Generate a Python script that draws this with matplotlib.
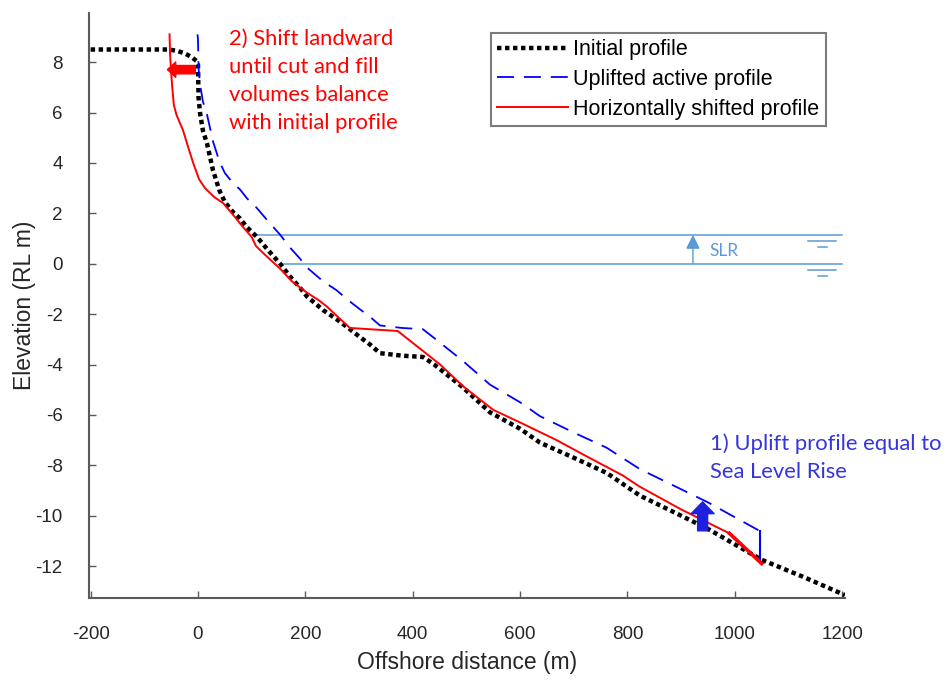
import matplotlib.pyplot as plt

plt.rcParams['axes.unicode_minus'] = False

# initial beach profile (offshore distance m, elevation m RL)
x_init = [-200, -55, -40, -25, -12, -3, 0, 1, 4, 9, 17, 28, 40, 50, 65, 78, 91,
          110, 130, 153, 171, 190, 203, 233, 258, 277, 301, 320, 339, 380, 419,
          440, 493, 544, 600, 637, 700, 761, 823, 948, 1050, 1130, 1205]
z_init = [8.5, 8.5, 8.45, 8.35, 8.2, 8.05, 7.9, 6.6, 5.95, 5.3, 4.75, 3.7, 2.9,
          2.45, 2.05, 1.8, 1.45, 1.06, 0.55, 0.0, -0.5, -0.95, -1.3, -1.84, -2.2,
          -2.5, -2.9, -3.2, -3.55, -3.65, -3.7, -4.0, -4.9, -5.9, -6.55, -7.1,
          -7.7, -8.3, -9.2, -10.5, -11.75, -12.45, -13.15]

# active profile raised by the sea level rise
x_up = [-1, 0, 1, 4, 9, 17, 28, 40, 50, 65, 78, 91, 110, 130, 153, 171, 190,
        203, 233, 258, 277, 301, 320, 339, 380, 419, 440, 493, 544, 600, 637,
        700, 761, 823, 948, 1046]
z_up = [9.1, 8.9, 7.75, 7.1, 6.45, 5.9, 4.85, 4.05, 3.6, 3.2, 2.95, 2.6, 2.2,
        1.7, 1.15, 0.65, 0.2, -0.15, -0.7, -1.05, -1.4, -1.8, -2.1, -2.45,
        -2.55, -2.6, -2.95, -3.85, -4.8, -5.5, -6.05, -6.7, -7.3, -8.15, -9.45,
        -10.6]
x_up_edge = [1046, 1046]
z_up_edge = [-10.6, -11.8]

# raised profile moved landward
x_shift = [-53, -52, -50, -48, -45, -40, -28, -18, -9, 2, 13, 30, 47, 65, 84,
           100, 108, 125, 153, 175, 203, 225, 240, 260, 283, 372, 451, 493, 550,
           600, 668, 720, 791, 823, 900, 990]
z_shift = [9.1, 8.3, 7.6, 7.0, 6.3, 5.9, 5.3, 4.6, 4.0, 3.35, 3.0, 2.65, 2.4,
           1.95, 1.45, 1.06, 0.7, 0.35, -0.2, -0.7, -1.15, -1.45, -1.7, -2.1,
           -2.55, -2.67, -4.0, -4.85, -5.8, -6.3, -7.0, -7.6, -8.4, -8.85,
           -9.75, -10.7]
x_shift_toe = [990, 1050]
z_shift_toe = [-10.7, -11.9]

# still water levels before / after sea level rise
slr_levels = [0.0, 1.15]
slr_starts = [153, 106]

xticks = [-200, 0, 200, 400, 600, 800, 1000, 1200]
yticks = [-12, -10, -8, -6, -4, -2, 0, 2, 4, 6, 8]

axis_font = 'Liberation Sans'
note_font = 'Lato'
slr_col = '#5b9bd5'

fig = plt.figure(figsize=(9.44, 6.82), dpi=100)
ax = fig.add_axes([0.0943, 0.123, 0.8007, 0.858])

ax.plot(x_init, z_init, color='k', lw=3.2, ls=(0, (1, 0.8)),
        label='Initial profile', zorder=3)
ax.plot(x_up, z_up, color='b', lw=1.3, ls=(0, (9.4, 5.5)),
        label='Uplifted active profile', zorder=4)
ax.plot(x_up_edge, z_up_edge, color='b', lw=1.5, zorder=4)
ax.plot(x_shift, z_shift, color='r', lw=1.4,
        label='Horizontally shifted profile', zorder=5)
ax.plot(x_shift_toe, z_shift_toe, color='r', lw=2.6, zorder=5)

# sea level lines and symbols
for lev, x0 in zip(slr_levels, slr_starts):
    ax.plot([x0, 1200], [lev, lev], color=slr_col, lw=1.1, zorder=2)
    ax.plot([1136, 1188], [lev - 0.25, lev - 0.25], color=slr_col, lw=1.1)
    ax.plot([1154, 1171], [lev - 0.48, lev - 0.48], color=slr_col, lw=1.1)
ax.annotate('', xy=(922, slr_levels[1]), xytext=(922, slr_levels[0]),
            arrowprops=dict(arrowstyle='-|>,head_length=0.85,head_width=0.42',
                            mutation_scale=10, color=slr_col, lw=1,
                            shrinkA=0, shrinkB=0))
ax.text(953, 0.5, 'SLR', color=slr_col, fontsize=12.5, family=note_font,
        va='center', ha='left')

# annotations
ax.annotate('', xy=(-57, 7.7), xytext=(-5, 7.7),
            arrowprops=dict(arrowstyle='simple,head_length=0.6,head_width=1.1,tail_width=0.6',
                            mutation_scale=10, color='r', shrinkA=0, shrinkB=0),
            zorder=6)
ax.text(58, 9.33, '2) Shift landward\nuntil cut and fill\nvolumes balance\nwith initial profile',
        color='r', fontsize=15.8, family=note_font, va='top', ha='left',
        linespacing=1.5)
ax.annotate('', xy=(940, -9.45), xytext=(940, -10.6),
            arrowprops=dict(arrowstyle='simple,head_length=0.85,head_width=1.65,tail_width=0.72',
                            mutation_scale=10, color='#1f1fe0', shrinkA=0, shrinkB=0),
            zorder=6)
ax.text(953, -6.72, '1) Uplift profile equal to\nSea Level Rise', color='#3535e0',
        fontsize=15.8, family=note_font, va='top', ha='left', linespacing=1.5)

ax.set_xlim(-203, 1205)
ax.set_ylim(-13.27, 9.95)
ax.set_xticks(xticks)
ax.set_yticks(yticks)
for side in ['top', 'right']:
    ax.spines[side].set_visible(False)
for side in ['left', 'bottom']:
    ax.spines[side].set_color('#5a5a5a')
    ax.spines[side].set_linewidth(1.5)
ax.tick_params(direction='in', length=5, width=1, color='#5a5a5a',
               labelcolor='#262626', labelsize=13.5)
ax.tick_params(axis='x', pad=20)
ax.tick_params(axis='y', pad=19)
for lab in ax.get_xticklabels() + ax.get_yticklabels():
    lab.set_family(axis_font)

ax.set_xlabel('Offshore distance (m)', fontsize=16.5, family=axis_font,
              color='#262626')
ax.set_ylabel('Elevation (RL m)', fontsize=16.5, family=axis_font,
              color='#262626')
ax.xaxis.set_label_coords(0.5, -0.09)
ax.yaxis.set_label_coords(-0.07, 0.5)

leg = ax.legend(loc='upper right', bbox_to_anchor=(0.975, 0.966),
                borderaxespad=0, fancybox=False, edgecolor='#5a5a5a',
                prop={'family': axis_font, 'size': 15.5}, handlelength=3.3,
                handletextpad=0.25, labelspacing=0.4, borderpad=0.3)
leg.get_frame().set_linewidth(1.5)

fig.savefig('out.png', dpi=100)
